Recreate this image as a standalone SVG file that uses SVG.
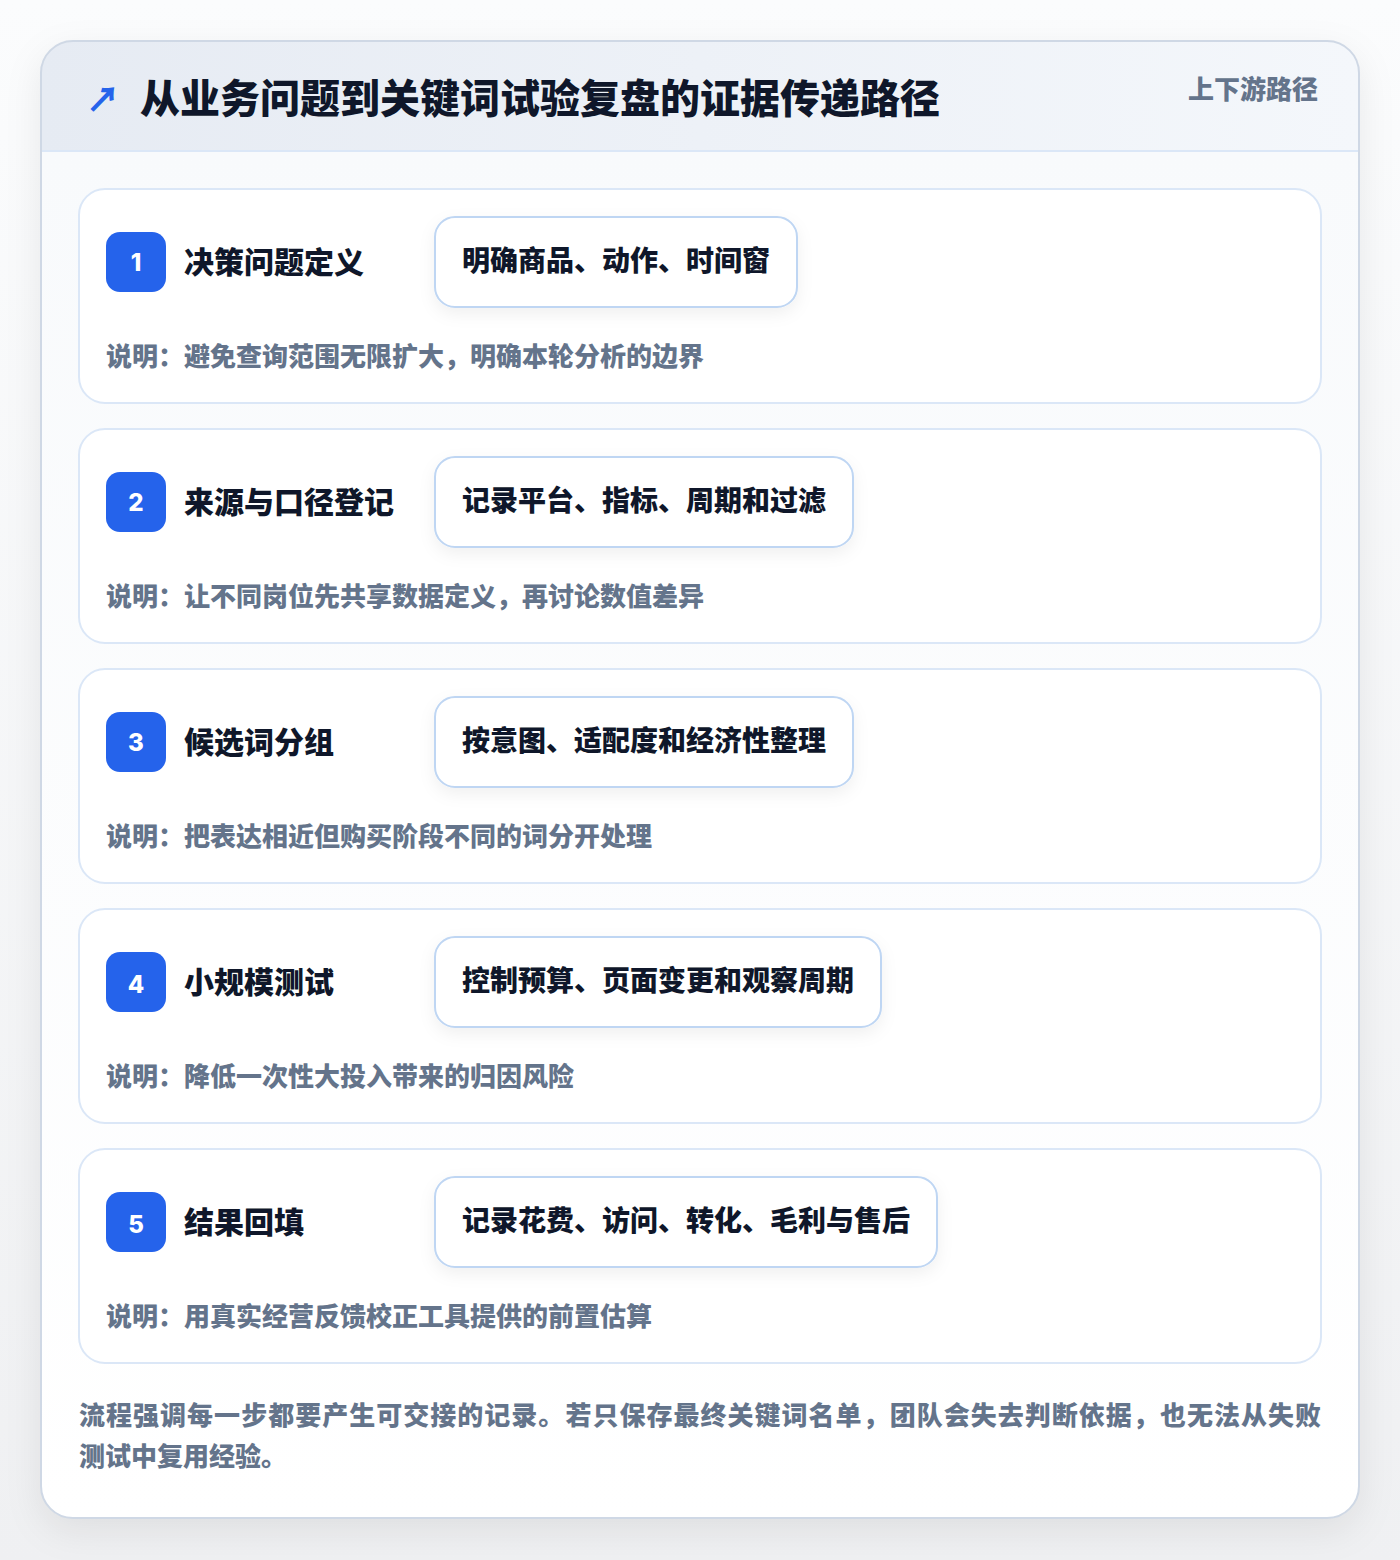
<svg xmlns="http://www.w3.org/2000/svg" width="1400" height="1560" viewBox="0 0 1400 1560">
<defs>
<linearGradient id="pageBg" x1="0" y1="0" x2="0" y2="1">
<stop offset="0" stop-color="#fbfcfd"/>
<stop offset="1" stop-color="#eff0f2"/>
</linearGradient>
<linearGradient id="headBg" x1="0" y1="0" x2="1" y2="0">
<stop offset="0" stop-color="#e6ebf3"/>
<stop offset="1" stop-color="#f4f7fb"/>
</linearGradient>
<linearGradient id="bodyBg" x1="0" y1="0" x2="0" y2="1">
<stop offset="0" stop-color="#f8fafc"/>
<stop offset="1" stop-color="#ffffff"/>
</linearGradient>
<clipPath id="cardClip"><rect x="41" y="41" width="1318" height="1477" rx="32"/></clipPath>
<filter id="cardShadow" x="-10%" y="-10%" width="120%" height="120%">
<feDropShadow dx="0" dy="12" stdDeviation="18" flood-color="#0f172a" flood-opacity="0.08"/>
</filter>
<filter id="pillShadow" x="-20%" y="-40%" width="140%" height="180%">
<feDropShadow dx="0" dy="6" stdDeviation="8" flood-color="#0f172a" flood-opacity="0.06"/>
</filter>
</defs>
<style>
.cjk{font-family:"Noto Sans CJK SC","Noto Sans",sans-serif;font-weight:800}
.title{font-size:40px;fill:#0f172a}
.tag{font-size:26px;fill:#64748b}
.step{fill:#ffffff;stroke:#dbe7f7;stroke-width:2}
.badge{fill:#2563eb}
.num{font-family:Inter,"Liberation Sans",sans-serif;font-weight:800;font-size:24px;fill:#ffffff}
.stitle{font-size:30px;fill:#0f172a}
.pill{fill:#ffffff;stroke:#bfd6f3;stroke-width:2}
.ptext{font-size:28px;fill:#0f172a}
.desc{font-size:26px;fill:#64748b}
.foot{font-size:26px;fill:#64748b}
</style>
<rect x="0" y="0" width="1400" height="1560" fill="url(#pageBg)"/>
<g id="card">
<rect x="41" y="41" width="1318" height="1477" rx="32" fill="#ffffff" filter="url(#cardShadow)"/>
<g clip-path="url(#cardClip)">
<rect x="41" y="151" width="1318" height="1367" fill="url(#bodyBg)"/>
<rect x="41" y="41" width="1318" height="110" fill="url(#headBg)"/>
<line x1="41" y1="151" x2="1359" y2="151" stroke="#dbe7f7" stroke-width="2"/>
</g>
<rect x="41" y="41" width="1318" height="1477" rx="32" fill="none" stroke="#cfd8e5" stroke-width="2"/>
</g>
<g id="header">
<text class="cjk" x="86" y="112" font-size="34" fill="#2563eb">↗</text>
<text class="cjk title" x="140" y="113">从业务问题到关键词试验复盘的证据传递路径</text>
<text class="cjk tag" x="1318" y="99" text-anchor="end">上下游路径</text>
</g>
<g id="step1">
<rect class="step" x="79" y="189" width="1242" height="214" rx="26"/>
<rect class="badge" x="106" y="232" width="60" height="60" rx="14"/>
<text class="num" x="136" y="271" text-anchor="middle">1</text>
<text class="cjk stitle" x="184" y="273">决策问题定义</text>
<rect class="pill" x="435" y="217" width="362" height="90" rx="20" filter="url(#pillShadow)"/>
<text class="cjk ptext" x="462" y="271">明确商品、动作、时间窗</text>
<text class="cjk desc" x="106" y="366">说明：避免查询范围无限扩大，明确本轮分析的边界</text>
</g>
<g id="step2">
<rect class="step" x="79" y="429" width="1242" height="214" rx="26"/>
<rect class="badge" x="106" y="472" width="60" height="60" rx="14"/>
<text class="num" x="136" y="511" text-anchor="middle">2</text>
<text class="cjk stitle" x="184" y="513">来源与口径登记</text>
<rect class="pill" x="435" y="457" width="418" height="90" rx="20" filter="url(#pillShadow)"/>
<text class="cjk ptext" x="462" y="511">记录平台、指标、周期和过滤</text>
<text class="cjk desc" x="106" y="606">说明：让不同岗位先共享数据定义，再讨论数值差异</text>
</g>
<g id="step3">
<rect class="step" x="79" y="669" width="1242" height="214" rx="26"/>
<rect class="badge" x="106" y="712" width="60" height="60" rx="14"/>
<text class="num" x="136" y="751" text-anchor="middle">3</text>
<text class="cjk stitle" x="184" y="753">候选词分组</text>
<rect class="pill" x="435" y="697" width="418" height="90" rx="20" filter="url(#pillShadow)"/>
<text class="cjk ptext" x="462" y="751">按意图、适配度和经济性整理</text>
<text class="cjk desc" x="106" y="846">说明：把表达相近但购买阶段不同的词分开处理</text>
</g>
<g id="step4">
<rect class="step" x="79" y="909" width="1242" height="214" rx="26"/>
<rect class="badge" x="106" y="952" width="60" height="60" rx="14"/>
<text class="num" x="136" y="993" text-anchor="middle">4</text>
<text class="cjk stitle" x="184" y="993">小规模测试</text>
<rect class="pill" x="435" y="937" width="446" height="90" rx="20" filter="url(#pillShadow)"/>
<text class="cjk ptext" x="462" y="991">控制预算、页面变更和观察周期</text>
<text class="cjk desc" x="106" y="1086">说明：降低一次性大投入带来的归因风险</text>
</g>
<g id="step5">
<rect class="step" x="79" y="1149" width="1242" height="214" rx="26"/>
<rect class="badge" x="106" y="1192" width="60" height="60" rx="14"/>
<text class="num" x="136" y="1233" text-anchor="middle">5</text>
<text class="cjk stitle" x="184" y="1233">结果回填</text>
<rect class="pill" x="435" y="1177" width="502" height="90" rx="20" filter="url(#pillShadow)"/>
<text class="cjk ptext" x="462" y="1231">记录花费、访问、转化、毛利与售后</text>
<text class="cjk desc" x="106" y="1326">说明：用真实经营反馈校正工具提供的前置估算</text>
</g>
<g id="connectors"></g>
<g id="footer">
<text class="cjk foot" x="79" y="1425" textLength="1242" lengthAdjust="spacing">流程强调每一步都要产生可交接的记录。若只保存最终关键词名单，团队会失去判断依据，也无法从失败</text>
<text class="cjk foot" x="79" y="1466">测试中复用经验。</text>
</g>
</svg>
